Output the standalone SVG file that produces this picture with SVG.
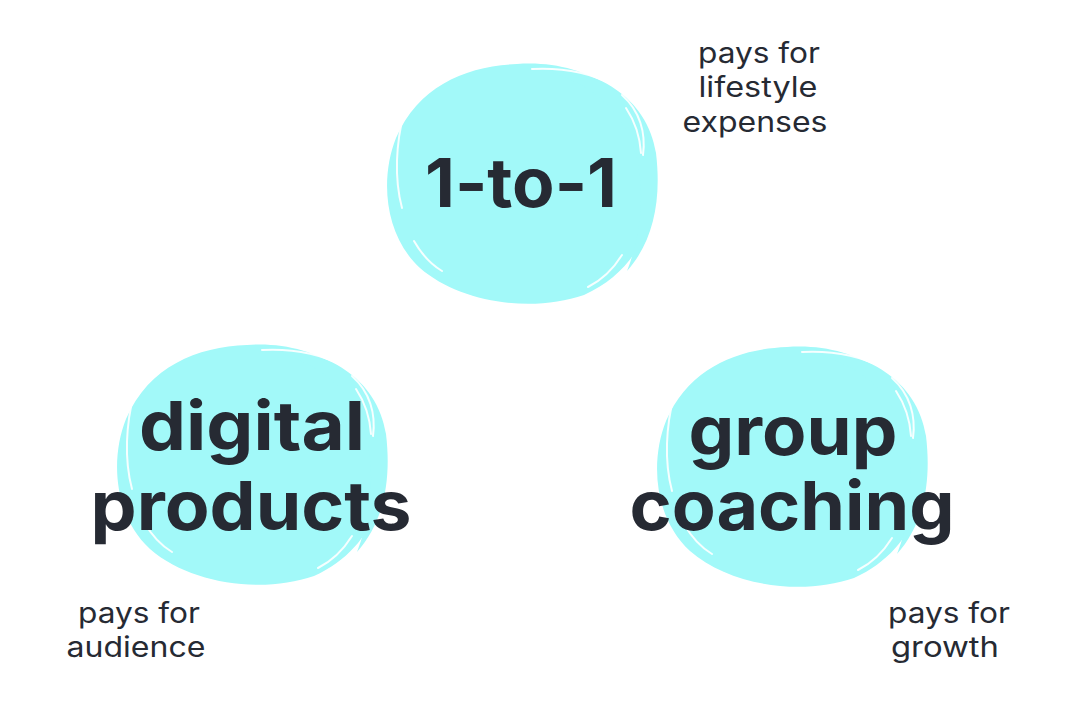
<svg xmlns="http://www.w3.org/2000/svg" xmlns:xlink="http://www.w3.org/1999/xlink" width="1080" height="720" viewBox="0 0 1080 720">
  <style>
    .big { font-family: Inter, "Liberation Sans", sans-serif; font-weight: 700; font-size: 68px; fill: #262a33; text-anchor: middle; }
    .small { font-family: Inter, "Liberation Sans", sans-serif; font-weight: 400; font-size: 28px; fill: #262a33; text-anchor: middle; }
    .blobfill { fill: #a2f9f9; }
    .scr { fill: none; stroke: #ffffff; stroke-width: 2; stroke-linecap: round; opacity: 0.9; }
  </style>
  <defs>
    <g id="blob">
      <path class="blobfill" d="M -5,-119 C 60,-124 118,-90 130,-35 C 142,25 122,85 62,112 C 10,130 -62,120 -102,85 C -138,52 -142,-5 -126,-45 C -103,-98 -55,-117 -5,-119 Z"/>
      <path class="blobfill" d="M 10,-116 C 70,-118 125,-88 134,-30 C 140,20 130,60 105,88 C 120,50 125,0 110,-40 C 95,-80 60,-105 10,-116 Z"/>
      <path class="scr" d="M -118,-70 C -126,-40 -128,-5 -120,25"/>
      <path class="scr" d="M 10,-114 C 45,-116 75,-108 95,-96"/>
      <path class="scr" d="M 100,-88 C 118,-72 124,-50 121,-28"/>
      <path class="scr" d="M 104,-75 C 114,-60 118,-45 119,-30"/>
      <path class="scr" d="M 100,72 C 90,88 78,98 66,104"/>
      <path class="scr" d="M -108,58 C -100,72 -90,82 -80,88"/>
    </g>
  </defs>

  <g id="node-1to1">
    <use xlink:href="#blob" href="#blob" transform="translate(522,183)"/>
    <text class="big" x="521" y="207" textLength="192" lengthAdjust="spacingAndGlyphs">1-to-1</text>
  </g>

  <g id="node-digital">
    <use xlink:href="#blob" href="#blob" transform="translate(252,464)"/>
    <text class="big" x="252" y="450" textLength="226" lengthAdjust="spacingAndGlyphs">digital</text>
    <text class="big" x="251" y="530" textLength="321" lengthAdjust="spacingAndGlyphs">products</text>
  </g>

  <g id="node-group">
    <use xlink:href="#blob" href="#blob" transform="translate(792,466)"/>
    <text class="big" x="793" y="455" textLength="209" lengthAdjust="spacingAndGlyphs">group</text>
    <text class="big" x="792" y="530" textLength="325" lengthAdjust="spacingAndGlyphs">coaching</text>
  </g>

  <g id="label-lifestyle">
    <text class="small" x="759" y="63" textLength="122" lengthAdjust="spacingAndGlyphs">pays for</text>
    <text class="small" x="758" y="97" textLength="119" lengthAdjust="spacingAndGlyphs">lifestyle</text>
    <text class="small" x="755" y="132" textLength="145" lengthAdjust="spacingAndGlyphs">expenses</text>
  </g>

  <g id="label-audience">
    <text class="small" x="139" y="623" textLength="122" lengthAdjust="spacingAndGlyphs">pays for</text>
    <text class="small" x="136" y="657" textLength="139" lengthAdjust="spacingAndGlyphs">audience</text>
  </g>

  <g id="label-growth">
    <text class="small" x="949" y="623" textLength="122" lengthAdjust="spacingAndGlyphs">pays for</text>
    <text class="small" x="945" y="657" textLength="108" lengthAdjust="spacingAndGlyphs">growth</text>
  </g>

  <g id="connectors"></g>
</svg>
